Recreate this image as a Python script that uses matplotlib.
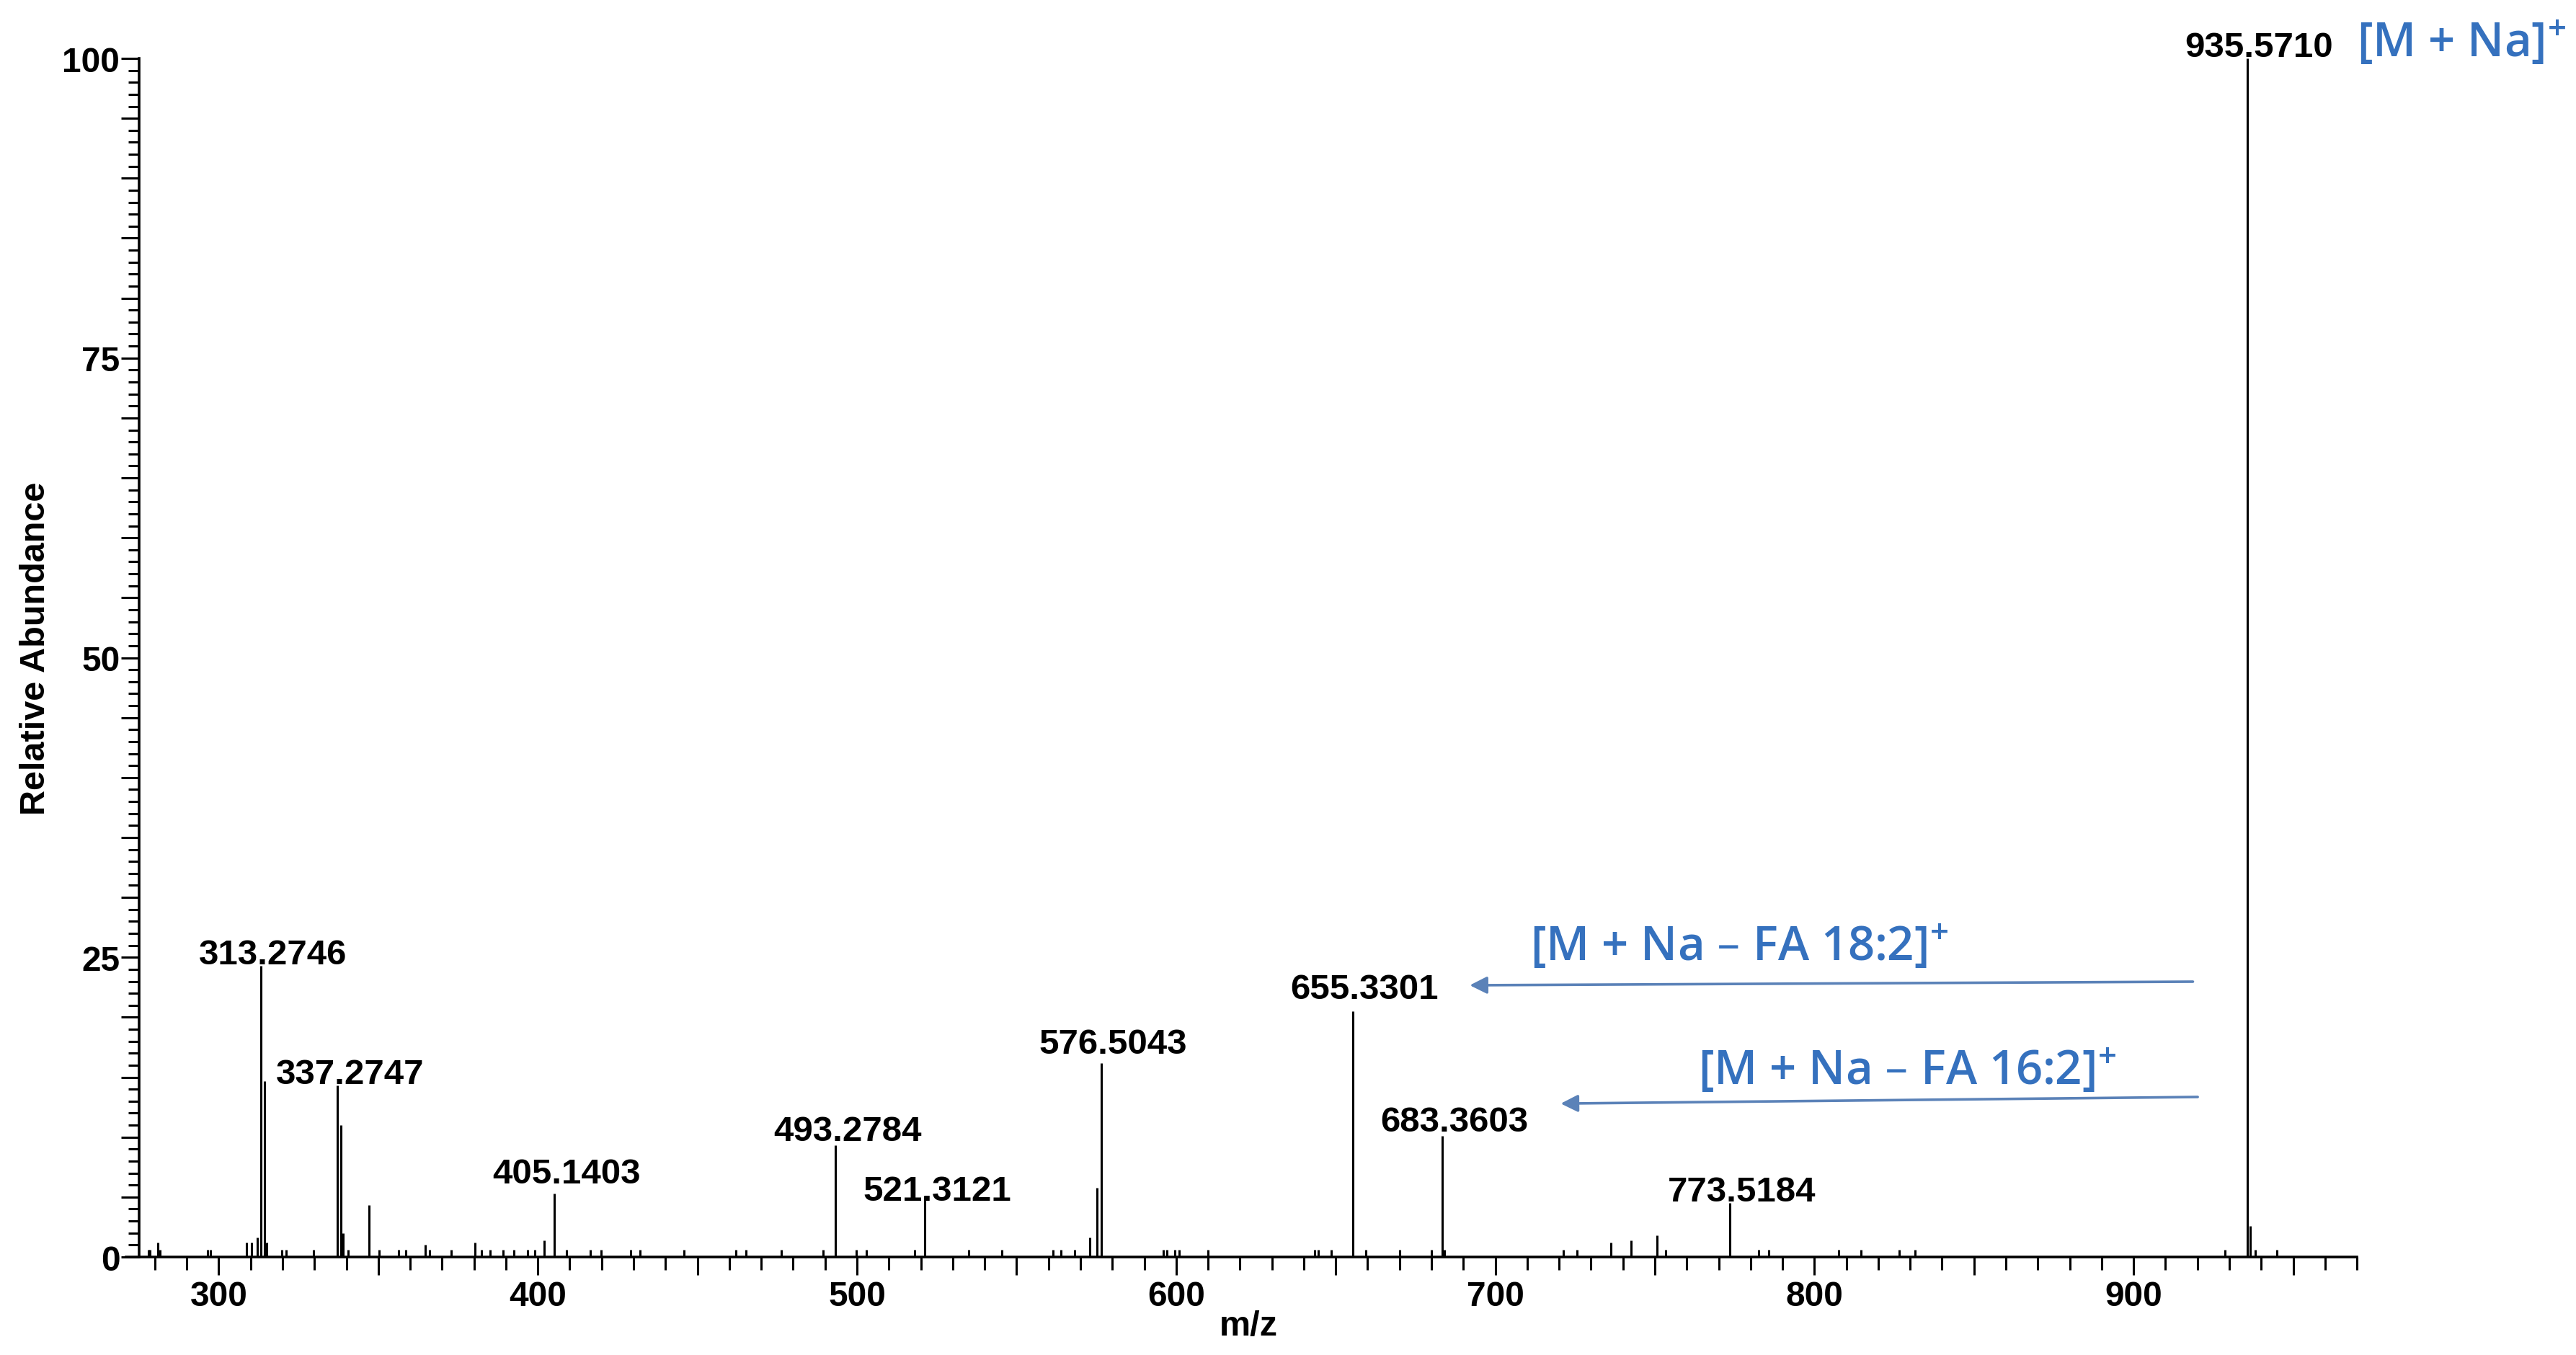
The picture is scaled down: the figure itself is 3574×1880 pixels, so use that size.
import matplotlib
matplotlib.use("Agg")
import matplotlib.pyplot as plt
from matplotlib.ticker import MultipleLocator, FuncFormatter

# ---------------- data ----------------
label_mz = [313.2746, 337.2747, 405.1403, 493.2784, 521.3121,
            576.5043, 655.3301, 683.3603, 773.5184, 935.5710]
label_int = [24.3, 14.3, 5.3, 9.3, 5.1, 16.2, 20.5, 10.1, 4.5, 100.0]
label_text = ["313.2746", "337.2747", "405.1403", "493.2784", "521.3121",
              "576.5043", "655.3301", "683.3603", "773.5184", "935.5710"]

other_mz = [314.3, 338.3, 339.0, 347.0, 575.2, 936.5,
            277.9, 278.4, 281.0, 281.6, 296.6, 297.4, 308.6, 310.3, 312.0,
            315.0, 319.8, 321.2, 329.8, 340.5, 350.3, 356.4, 358.6, 364.7,
            366.0, 372.9, 380.2, 382.4, 385.0, 389.0, 392.6, 396.9, 399.0,
            402.0, 409.0, 416.4, 419.8, 429.0, 432.0, 445.7, 462.0, 465.2,
            476.2, 489.3, 499.7, 503.0, 518.0, 535.0, 545.5, 561.4, 564.0,
            568.3, 573.0, 596.0, 597.0, 599.5, 601.0, 610.0, 643.5, 644.5,
            648.7, 659.4, 670.0, 680.0, 684.0, 721.3, 725.6, 736.3, 742.5,
            750.6, 753.5, 782.5, 785.7, 807.7, 814.5, 826.5, 831.6, 928.7,
            938.2, 945.0]
other_int = [14.7, 11.0, 2.0, 4.3, 5.8, 2.6,
             0.6, 0.6, 1.2, 0.6, 0.6, 0.6, 1.2, 1.2, 1.6,
             1.2, 0.6, 0.6, 0.6, 0.6, 0.6, 0.6, 0.6, 1.0,
             0.6, 0.6, 1.2, 0.6, 0.6, 0.6, 0.6, 0.6, 0.6,
             1.4, 0.6, 0.6, 0.6, 0.6, 0.6, 0.6, 0.6, 0.6,
             0.6, 0.6, 0.6, 0.6, 0.6, 0.6, 0.6, 0.6, 0.6,
             0.6, 1.6, 0.6, 0.6, 0.6, 0.6, 0.6, 0.6, 0.6,
             0.6, 0.6, 0.6, 0.6, 0.6, 0.6, 0.6, 1.2, 1.4,
             1.8, 0.6, 0.6, 0.6, 0.6, 0.6, 0.6, 0.6, 0.6,
             0.6, 0.6]

x_ticks_labeled = [300, 400, 500, 600, 700, 800, 900]
y_ticks_labeled = [0, 25, 50, 75, 100]

ion_labels = ["[M + Na]$^{+}$",
              "[M + Na – FA 18:2]$^{+}$",
              "[M + Na – FA 16:2]$^{+}$"]

# ---------------- style ----------------
plt.rcParams["mathtext.default"] = "regular"
BOLD = dict(family=["Liberation Sans", "DejaVu Sans"], weight="bold")
FS = 34.5
LFS = 35.5
BLUE = "#3571BE"
ARROW = "#5B82B8"

fig = plt.figure(figsize=(35.74, 18.81), dpi=100)
ax = fig.add_axes([0.04897, 0.0723, 0.8660, 0.8841])

ax.vlines(other_mz, 0, other_int, color="black", lw=2.2)
ax.vlines(label_mz, 0, label_int, color="black", lw=2.2)

ax.set_xlim(271, 970)
ax.set_ylim(0, 100)

for s in ("top", "right"):
    ax.spines[s].set_visible(False)
ax.spines["left"].set_position(("data", 275))
ax.spines["left"].set_linewidth(2.6)
ax.spines["bottom"].set_linewidth(2.6)

ax.xaxis.set_major_locator(MultipleLocator(50))
ax.xaxis.set_minor_locator(MultipleLocator(10))
ax.xaxis.set_major_formatter(FuncFormatter(
    lambda v, p: f"{int(round(v))}" if int(round(v)) in x_ticks_labeled else ""))
ax.yaxis.set_major_locator(MultipleLocator(5))
ax.yaxis.set_minor_locator(MultipleLocator(1))
ax.yaxis.set_major_formatter(FuncFormatter(
    lambda v, p: f"{int(round(v))}" if int(round(v)) in y_ticks_labeled else ""))

ax.tick_params(axis="x", which="major", direction="out", length=18, width=2.2, pad=5)
ax.tick_params(axis="x", which="minor", direction="out", length=13, width=2.2)
ax.tick_params(axis="y", which="major", direction="out", length=18, width=2.2, pad=1)
ax.tick_params(axis="y", which="minor", direction="out", length=11, width=2.2)
for lab in ax.get_xticklabels() + ax.get_yticklabels():
    lab.set_family(BOLD["family"])
    lab.set_weight("bold")
    lab.set_fontsize(FS)

# peak labels
label_dy = [2, 2, 11, 5, -4, 10, 13, 5, 2, 2]
for mz, h, t, dy in zip(label_mz, label_int, label_text, label_dy):
    ax.annotate(t, xy=(mz, h), xytext=(12, dy), textcoords="offset points",
                ha="center", va="baseline", fontsize=LFS, **BOLD)

# axis labels
fig.text(50 / 3574, 1 - 900 / 1881, "Relative Abundance", rotation=90,
         ha="center", va="center", fontsize=35, **BOLD)
fig.text(1732 / 3574, 1 - 1841 / 1881, "m/z", ha="center", va="center",
         fontsize=35, **BOLD)

# ion annotations
BFONT = dict(family=["Open Sans", "DejaVu Sans"], color=BLUE, fontsize=47,
             weight="semibold")
ax.text(970.0, 100.2, ion_labels[0], ha="left", va="baseline", clip_on=False, **BFONT)
ax.text(711.0, 24.77, ion_labels[1], ha="left", va="baseline", **BFONT)
ax.text(763.5, 14.43, ion_labels[2], ha="left", va="baseline", **BFONT)

arrow_kw = dict(arrowstyle="-|>,head_length=0.9,head_width=0.45",
                color=ARROW, lw=2.6, mutation_scale=16, shrinkA=0, shrinkB=0)
ax.annotate("", xy=(692.0, 22.67), xytext=(918.6, 22.97), arrowprops=arrow_kw)
ax.annotate("", xy=(720.5, 12.8), xytext=(920.1, 13.35), arrowprops=arrow_kw)

fig.savefig("out.png", dpi=100, facecolor="white")
